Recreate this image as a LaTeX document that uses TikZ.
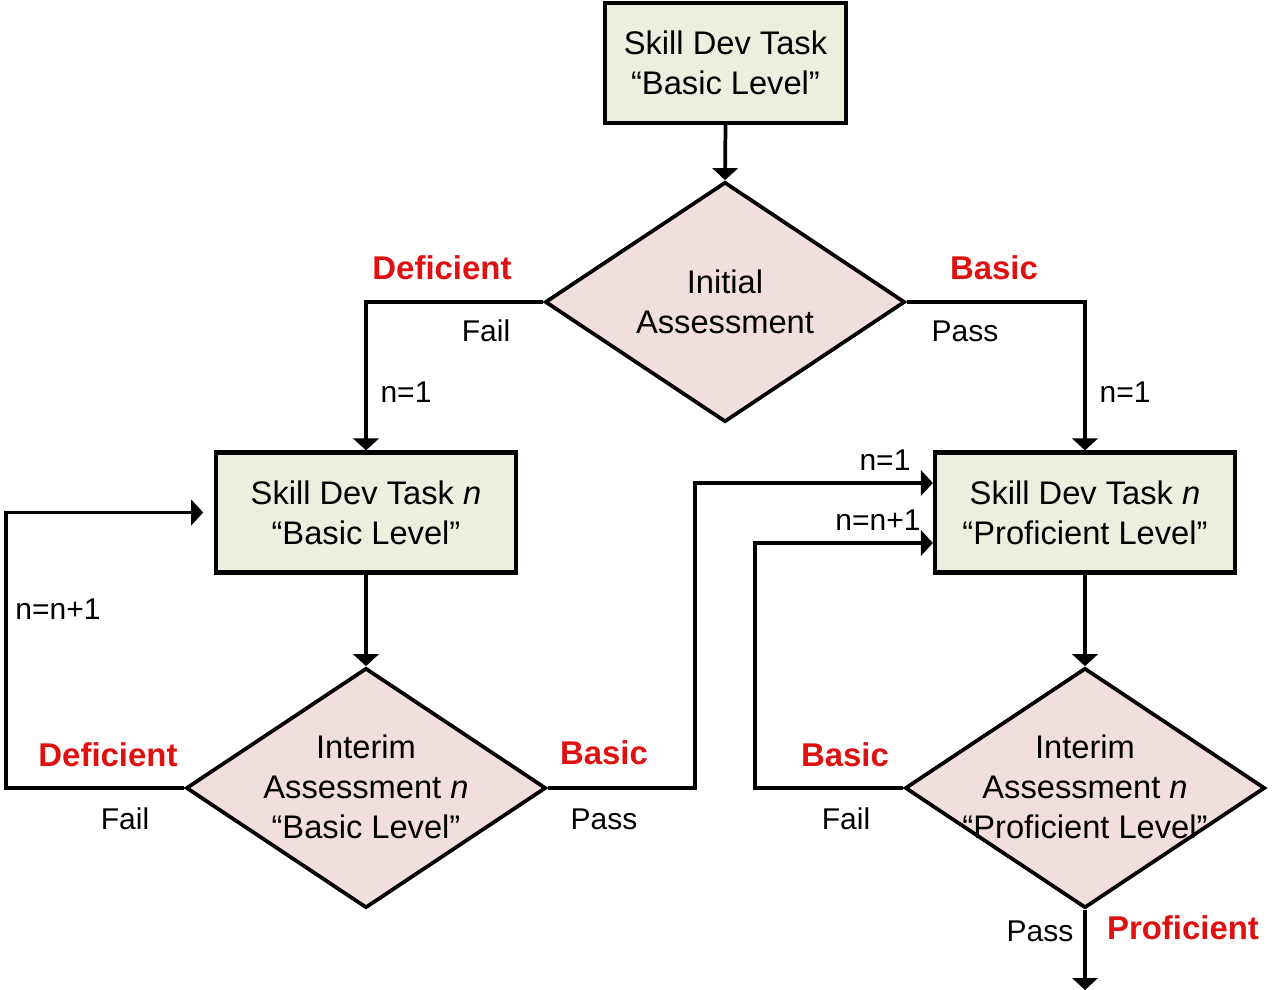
\documentclass[tikz,border=0pt]{standalone}
\usepackage{fontspec}
\setmainfont{Liberation Sans}
\usetikzlibrary{shapes.geometric,arrows.meta}
\definecolor{boxfill}{RGB}{235,240,222}
\definecolor{diafill}{RGB}{242,222,220}
\definecolor{lblred}{RGB}{222,16,16}
\begin{document}
\begin{tikzpicture}[x=0.75pt,y=-0.75pt,
  taskbox/.style={draw=black, line width=3.2pt, fill=boxfill, minimum width=225pt, minimum height=90pt, align=center, inner sep=0pt, font=\fontsize{24.5}{30}\selectfont},
  decision/.style={diamond, draw=black, line width=2.8pt, fill=diafill, minimum width=270pt, minimum height=180pt, inner sep=0pt},
  dtext/.style={align=center, inner sep=0pt, font=\fontsize{24.5}{30}\selectfont},
  arr/.style={line width=2.8pt, -{Triangle[length=9pt,width=19pt]}},
  lbl/.style={inner sep=0pt, font=\fontsize{22.5}{27}\selectfont},
  key/.style={inner sep=0pt, text=lblred, font=\fontsize{24.7}{30}\selectfont\bfseries}]
\useasboundingbox (0,0) rectangle (1277,989);

% nodes
\node[taskbox, minimum width=180.75pt] (b1) at (725.5,63) {Skill Dev Task\\“Basic Level”};
\node[decision] (d1) at (725,302) {};
\node[dtext] (t1) at (725,302) {Initial\\Assessment};
\node[taskbox] (b2) at (366,512.5) {Skill Dev Task \textit{n}\\“Basic Level”};
\node[taskbox] (b3) at (1085,512.5) {Skill Dev Task \textit{n}\\“Proficient Level”};
\node[decision] (d2) at (366,788) {};
\node[dtext] (t2) at (366,787) {Interim\\Assessment \textit{n}\\“Basic Level”};
\node[decision] (d3) at (1085,788) {};
\node[dtext] (t3) at (1085,787) {Interim\\Assessment \textit{n}\\“Proficient Level”};

\coordinate (c1) at (695,483);
\coordinate (c2) at (755,543);
\coordinate (c3) at (6,788);
\coordinate (bot) at (1085,990);

% connectors
\draw[arr] (b1.south) -- (d1.north);
\draw[arr] (d1.west) -| (b2.north);
\draw[arr] (d1.east) -| (b3.north);
\draw[arr] (b2.south) -- (d2.north);
\draw[arr] (b3.south) -- (d3.north);
\draw[arr, shorten >=8pt] (d2.west) -- (c3) |- (b2.west);
\draw[arr] (d2.east) -| (c1) -- (c1 -| b3.west);
\draw[arr] (d3.west) -| (c2) -- (c2 -| b3.west);
\draw[arr] (d3.south) -- (bot);

% labels
\node[key] (k1) at (442,268) {Deficient};
\node[lbl] (l1) at (486,331) {Fail};
\node[lbl] (l2) at (406,392) {n=1};
\node[key] (k2) at (994,268) {Basic};
\node[lbl] (l3) at (965,331) {Pass};
\node[lbl] (l4) at (1125,392) {n=1};
\node[key] (k3) at (108,755) {Deficient};
\node[lbl] (l5) at (125,819) {Fail};
\node[lbl] (l6) at (58,609) {n=n+1};
\node[key] (k4) at (604,753) {Basic};
\node[lbl] (l7) at (604,819) {Pass};
\node[lbl] (l8) at (885,460) {n=1};
\node[key] (k5) at (845,755) {Basic};
\node[lbl] (l9) at (846,819) {Fail};
\node[lbl] (l10) at (878,520) {n=n+1};
\node[lbl] (l11) at (1040,931) {Pass};
\node[key] (k6) at (1183,928) {Proficient};
\end{tikzpicture}
\end{document}
